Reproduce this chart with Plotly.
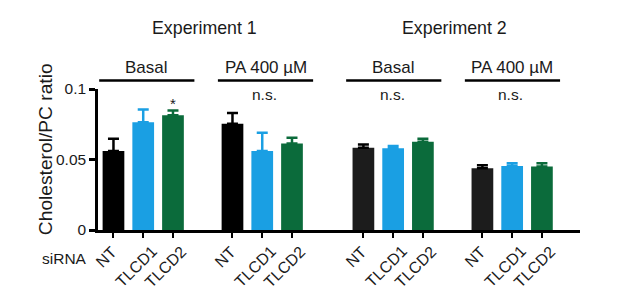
import plotly.graph_objects as go

# ---------------- data ----------------
categories = ["NT", "TLCD1", "TLCD2"]
experiments = ["Experiment 1", "Experiment 2"]
conditions = ["Basal", "PA 400 µM", "Basal", "PA 400 µM"]
significance = ["", "n.s.", "n.s.", "n.s."]
star_label = "*"

nt_vals = [0.056, 0.0754, 0.0584, 0.0438]
tlcd1_vals = [0.0764, 0.056, 0.0579, 0.0454]
tlcd2_vals = [0.0814, 0.0613, 0.0626, 0.0450]
nt_err = [0.0088, 0.0075, 0.0023, 0.0021]
tlcd1_err = [0.0090, 0.0130, 0.0016, 0.0019]
tlcd2_err = [0.0033, 0.0042, 0.0021, 0.0023]

y_tickvals = [0, 0.05, 0.1]
y_ticktext = ["0", "0.05", "0.1"]

# ---------------- layout constants ----------------
FONT = "Arial, Liberation Sans, Helvetica, sans-serif"
TXT = "#1a1a1a"
group_starts = [0, 4, 8.4, 12.4]
XR = [-0.52, 15.68]
OFF = 8  # default page body margin
W, H = 617 - OFF, 308 - OFF
ML, MR, MT, MB = 98 - OFF, 37, 89 - OFF, 78
PW = W - ML - MR
PH = H - MT - MB

series = [
    (nt_vals, nt_err, ["#000000", "#000000", "#1c1c1c", "#1c1c1c"], "#000000"),
    (tlcd1_vals, tlcd1_err, ["#1a9fe3"] * 4, "#1a9fe3"),
    (tlcd2_vals, tlcd2_err, ["#0b6b3b"] * 4, "#0b6b3b"),
]

fig = go.Figure()
for i, (vals, errs, cols, ecol) in enumerate(series):
    xs = [g + i for g in group_starts]
    fig.add_trace(go.Bar(
        x=xs, y=vals, width=0.73,
        marker=dict(color=cols, line=dict(width=0)),
        error_y=dict(type="data", symmetric=False, array=errs,
                     arrayminus=[0] * len(errs), color=ecol,
                     thickness=2.5, width=5.5),
        showlegend=False, hoverinfo="skip",
    ))

tickvals, ticktext = [], []
for g in group_starts:
    for i, c in enumerate(categories):
        tickvals.append(g + i)
        ticktext.append(c)


def px(xd):
    return (xd - XR[0]) / (XR[1] - XR[0])


shapes, annos = [], []

# rotated category labels (centered under each tick, Prism style)
for tv, tt in zip(tickvals, ticktext):
    annos.append(dict(xref="x", yref="paper", x=tv, y=-11 / PH,
                      xshift=-7, text=tt, textangle=-45, showarrow=False,
                      font=dict(size=16, color=TXT, family=FONT),
                      xanchor="center", yanchor="top", borderpad=0))

header_shift = [0.12, 0.11, 0.02, 0.01]
for gi, g in enumerate(group_starts):
    c = g + 1 + header_shift[gi]
    shapes.append(dict(type="line", xref="paper", yref="paper",
                       x0=px(c - 1.6), x1=px(c + 1.6), y0=1.061, y1=1.061,
                       line=dict(color="#000", width=2.5)))
    annos.append(dict(xref="paper", yref="paper", x=px(c), y=1.152,
                      text=conditions[gi], showarrow=False,
                      font=dict(size=17, color=TXT, family=FONT),
                      xanchor="center", yanchor="middle"))
    if significance[gi]:
        annos.append(dict(xref="paper", yref="paper", x=px(c - 0.05), y=0.962,
                          text=significance[gi], showarrow=False,
                          font=dict(size=15.5, color=TXT, family=FONT),
                          xanchor="center", yanchor="middle"))

# star above TLCD2 basal exp1
annos.append(dict(xref="paper", yref="paper", x=px(group_starts[0] + 2), y=0.895,
                  text=star_label, showarrow=False,
                  font=dict(size=15, color=TXT, family=FONT),
                  xanchor="center", yanchor="middle"))

for ei, e in enumerate(experiments):
    c = (group_starts[2 * ei] + group_starts[2 * ei + 1]) / 2 + 1 + 0.05
    annos.append(dict(xref="paper", yref="paper", x=px(c), y=1.43,
                      text=e, showarrow=False,
                      font=dict(size=17.8, color=TXT, family=FONT),
                      xanchor="center", yanchor="middle"))

annos.append(dict(xref="paper", yref="paper", x=(45.5 - OFF - ML) / PW, y=0.57,
                  text="Cholesterol/PC ratio", textangle=-90, showarrow=False,
                  font=dict(size=19.2, color=TXT, family=FONT),
                  xanchor="center", yanchor="middle"))
annos.append(dict(xref="paper", yref="paper", x=(64.7 - OFF - ML) / PW, y=-0.205,
                  text="siRNA", showarrow=False,
                  font=dict(size=15.5, color=TXT, family=FONT),
                  xanchor="center", yanchor="middle"))

fig.update_layout(
    width=W, height=H,
    margin=dict(l=ML, r=MR, t=MT, b=MB, pad=0),
    paper_bgcolor="white", plot_bgcolor="white",
    barmode="overlay",
    font=dict(family=FONT, color=TXT),
    shapes=shapes, annotations=annos,
    xaxis=dict(range=XR, tickvals=tickvals, ticktext=ticktext,
               showticklabels=False,
               showline=True, linecolor="#000", linewidth=2.5,
               ticks="outside", ticklen=5, tickwidth=2, tickcolor="#000",
               showgrid=False, zeroline=False, automargin=False),
    yaxis=dict(range=[0, 0.1], tickvals=y_tickvals, ticktext=y_ticktext,
               showline=True, linecolor="#000", linewidth=2.5,
               ticks="outside", ticklen=6, tickwidth=2.5, tickcolor="#000",
               showgrid=False, zeroline=False, automargin=False,
               tickfont=dict(size=15.5, color=TXT, family=FONT)),
)

fig.write_html("out.html")
